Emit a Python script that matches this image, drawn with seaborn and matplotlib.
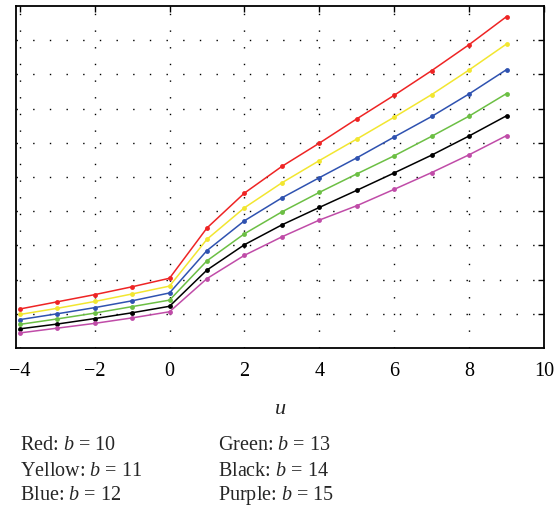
import numpy as np
import pandas as pd
import matplotlib
matplotlib.use("Agg")
import matplotlib.pyplot as plt
import seaborn as sns

# ──────────────────────────────────────────────
# Data
# ──────────────────────────────────────────────
u = [-4, -3, -2, -1, 0, 1, 2, 3, 4, 5, 6, 7, 8, 9]

red = [1.14, 1.35, 1.56, 1.79, 2.04, 3.51, 4.53, 5.31, 5.99, 6.70, 7.39, 8.11, 8.87, 9.69]
yellow = [0.98, 1.16, 1.36, 1.58, 1.81, 3.18, 4.10, 4.83, 5.48, 6.11, 6.75, 7.41, 8.13, 8.89]
blue = [0.83, 1.00, 1.18, 1.38, 1.61, 2.85, 3.72, 4.39, 4.98, 5.56, 6.17, 6.77, 7.43, 8.14]
green = [0.69, 0.85, 1.02, 1.21, 1.40, 2.55, 3.34, 3.98, 4.55, 5.09, 5.62, 6.19, 6.78, 7.44]
black = [0.56, 0.70, 0.86, 1.03, 1.22, 2.28, 3.02, 3.60, 4.11, 4.61, 5.12, 5.64, 6.20, 6.79]
purple = [0.44, 0.58, 0.72, 0.88, 1.06, 2.03, 2.71, 3.25, 3.74, 4.16, 4.64, 5.13, 5.65, 6.21]

series_names = ["Red", "Yellow", "Blue", "Green", "Black", "Purple"]
b_values = [10, 11, 12, 13, 14, 15]
colors = ["#ee2424", "#f2e630", "#2f52b0", "#6cbf44", "#000000", "#c04ca8"]

x_ticks = [-4, -2, 0, 2, 4, 6, 8, 10]

# ──────────────────────────────────────────────
# Build long-form table
# ──────────────────────────────────────────────
frames = []
for name, vals in zip(series_names, [red, yellow, blue, green, black, purple]):
    frames.append(pd.DataFrame({"u": u, "value": vals, "series": name}))
df = pd.concat(frames, ignore_index=True)

# ──────────────────────────────────────────────
# Plot
# ──────────────────────────────────────────────
sns.set_style("white")
plt.rcParams["font.family"] = ["Liberation Serif", "DejaVu Serif"]
plt.rcParams["mathtext.fontset"] = "custom"
plt.rcParams["mathtext.it"] = "Liberation Serif:italic"
plt.rcParams["mathtext.rm"] = "Liberation Serif"

fig = plt.figure(figsize=(5.56, 5.10), dpi=100)
ax = fig.add_axes([16 / 556, 1 - 349 / 510, 528 / 556, 342 / 510])

sns.lineplot(
    data=df, x="u", y="value", hue="series",
    palette=dict(zip(series_names, colors)),
    marker="o", markersize=3.5, markeredgewidth=0,
    linewidth=1.1, legend=False, ax=ax,
)

ax.set_xlim(-4.1, 10)
ax.set_ylim(0, 10)
ax.set_xticks(x_ticks)
ax.set_xticklabels([f"\u2212{abs(t)}" if t < 0 else str(t) for t in x_ticks], fontsize=14.5)
ax.set_yticks(range(1, 10))
ax.set_yticklabels([])
ax.tick_params(direction="in", length=4, width=1, top=True, right=True,
               colors="black", pad=9)
ax.set_xlabel("$u$", fontsize=16, labelpad=14)
ax.set_ylabel("")

for s in ax.spines.values():
    s.set_linewidth(1.3)
    s.set_color("black")

ax.grid(True, color="black", linewidth=1.0, linestyle=(0, (1, 11)))
ax.set_axisbelow(True)

# Text legend below the plot
for i, (name, b) in enumerate(zip(series_names, b_values)):
    col, row = divmod(i, 3)
    fig.text(20 / 556 + col * 198 / 556, 1 - (446 + row * 25) / 510,
             f"{name}: $b$ = {b}", fontsize=14.5, va="center", ha="left")

fig.savefig("out.png", dpi=100)
